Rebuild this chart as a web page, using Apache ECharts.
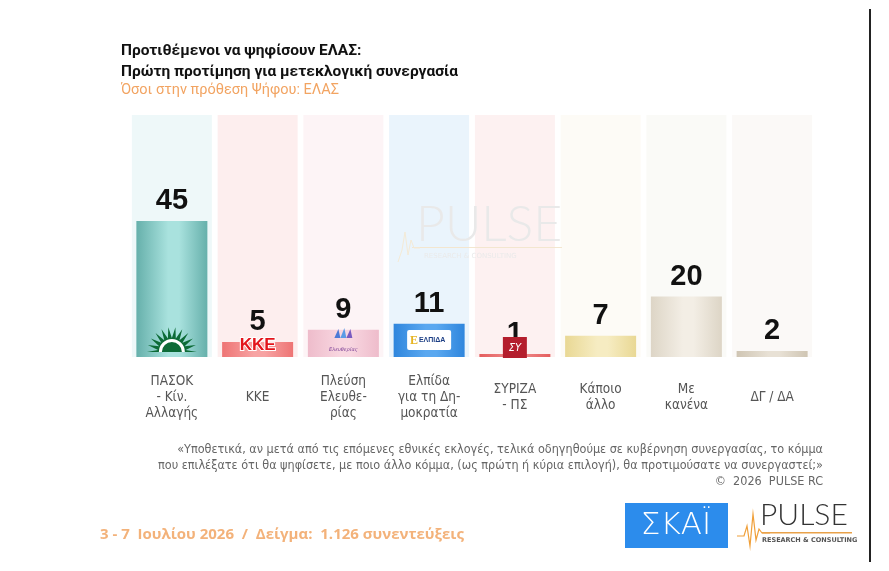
<!DOCTYPE html>
<html>
<head>
<meta charset="utf-8">
<script src="https://cdn.jsdelivr.net/npm/echarts@6/dist/echarts.min.js"></script>
<style>
  html, body { margin: 0; padding: 0; background: #fff; }
  #chart { width: 889px; height: 571px; }
</style>
</head>
<body>
<div id="chart"></div>
<script>
const chart = echarts.init(document.getElementById("chart"));

const categories = [
  "ΠΑΣΟΚ\n- Κίν.\nΑλλαγής",
  "ΚΚΕ",
  "Πλεύση\nΕλευθε-\nρίας",
  "Ελπίδα\nγια τη Δη-\nμοκρατία",
  "ΣΥΡΙΖΑ\n- ΠΣ",
  "Κάποιο\nάλλο",
  "Με\nκανένα",
  "ΔΓ / ΔΑ"
];
const values = [45, 5, 9, 11, 1, 7, 20, 2];
const AXIS_MAX = 80;
const backdrop = categories.map(() => AXIS_MAX);

// bar colours: [edge, centre]
const barColors = [
  ["#66b0ab", "#a9e2de"],
  ["#ee7474", "#f7a3a3"],
  ["#eebccb", "#f8d6e0"],
  ["#2f86dd", "#5aa8f0"],
  ["#e45e5e", "#ef8a8a"],
  ["#e9d894", "#f6ecc2"],
  ["#ddd5c6", "#f3eee5"],
  ["#cfc5b3", "#e8e1d5"]
];
const backColors = ["#eef8f9", "#fdeeee", "#fdf4f6", "#eaf4fc", "#fdf1f1", "#fdfbf6", "#fafaf7", "#fbf9f7"];

const NARROW = "'Liberation Sans Narrow', 'DejaVu Sans Condensed', Roboto";

function cylinder(c) {
  return new echarts.graphic.LinearGradient(0, 0, 1, 0, [
    { offset: 0, color: c[0] },
    { offset: 0.45, color: c[1] },
    { offset: 0.6, color: c[1] },
    { offset: 1, color: c[0] }
  ]);
}

// small party marks drawn at the foot of each bar
function renderLogo(params, api) {
  const i = params.dataIndex;
  const p = api.coord([api.value(0), 0]);
  const x = p[0], y = p[1];
  if (i === 0) {
    const pts = [];
    const n = 11;
    for (let k = 0; k <= n * 2; k++) {
      const a = Math.PI - (Math.PI * k) / (n * 2);
      const r = k % 2 === 0 ? 25 : 14;
      pts.push([x + Math.cos(a) * r, y - 5 - Math.sin(a) * r]);
    }
    return {
      type: "group",
      children: [
        { type: "polygon", shape: { points: pts }, style: { fill: "#0d6b37" } },
        { type: "sector", shape: { cx: x, cy: y - 5, r: 13, r0: 10, startAngle: Math.PI, endAngle: 2 * Math.PI }, style: { fill: "#fff" } }
      ]
    };
  }
  if (i === 1) {
    return {
      type: "text",
      style: { text: "KKE", x: x, y: y - 12, align: "center", verticalAlign: "middle", font: "bold 17px 'Liberation Sans'", fill: "#e3141b", stroke: "#fff", lineWidth: 2 }
    };
  }
  if (i === 2) {
    return {
      type: "group",
      children: [
        { type: "polygon", shape: { points: [[x - 9, y - 19], [x - 5, y - 28], [x - 3, y - 19]] }, style: { fill: "#4d7ad6" } },
        { type: "polygon", shape: { points: [[x - 3, y - 19], [x + 1, y - 29], [x + 3, y - 19]] }, style: { fill: "#5c9be6" } },
        { type: "polygon", shape: { points: [[x + 3, y - 19], [x + 7, y - 28], [x + 9, y - 19]] }, style: { fill: "#7a5bc0" } },
        { type: "text", style: { text: "Ελευθερίας", x: x, y: y - 7, align: "center", verticalAlign: "middle", font: "italic 5px 'DejaVu Sans'", fill: "#7a3d95" } }
      ]
    };
  }
  if (i === 3) {
    return {
      type: "group",
      children: [
        { type: "rect", shape: { x: x - 22, y: y - 27, width: 44, height: 20, r: 2 }, style: { fill: "#fff" } },
        { type: "text", style: { text: "ΕΛΠΙΔΑ", x: x + 3, y: y - 17, align: "center", verticalAlign: "middle", font: "bold 7px 'Liberation Sans'", fill: "#1d3f85" } },
        { type: "text", style: { text: "E", x: x - 15, y: y - 16, align: "center", verticalAlign: "middle", font: "bold 12px 'Liberation Serif'", fill: "#e6b422" } }
      ]
    };
  }
  if (i === 4) {
    return {
      type: "group",
      children: [
        { type: "rect", shape: { x: x - 12, y: y - 20, width: 24, height: 21 }, style: { fill: "#b41e2d" } },
        { type: "text", style: { text: "ΣΥ", x: x, y: y - 9, align: "center", verticalAlign: "middle", font: "italic 10px 'DejaVu Sans'", fill: "#fff" } }
      ]
    };
  }
  return null;
}

const option = {
  backgroundColor: "#ffffff",
  animation: false,
  title: [
    {
      text: "Προτιθέμενοι να ψηφίσουν ΕΛΑΣ:\nΠρώτη προτίμηση για μετεκλογική συνεργασία",
      left: 116, top: 36,
      textStyle: { fontFamily: "Roboto", fontSize: 15.5, fontWeight: "bold", color: "#111", lineHeight: 21 }
    },
    {
      text: "Όσοι στην πρόθεση Ψήφου: ΕΛΑΣ",
      left: 116, top: 78,
      textStyle: { fontFamily: "Roboto", fontSize: 14.5, fontWeight: "normal", color: "#f2a462" }
    }
  ],
  grid: { left: 129, right: 74, top: 115, bottom: 214 },
  xAxis: [
    {
      type: "category",
      data: categories,
      axisLine: { show: false },
      axisTick: { show: false },
      axisLabel: {
        interval: 0,
        margin: 40,
        verticalAlign: "middle",
        lineHeight: 16,
        fontFamily: NARROW,
        fontSize: 13.5,
        color: "#555"
      }
    },
    { type: "category", data: categories, show: false }
  ],
  yAxis: { type: "value", min: 0, max: AXIS_MAX, show: false, splitLine: { show: false } },
  graphic: [
    { type: "text", z: 1.5, left: 416, top: 200, style: { text: "PULSE", font: "300 50px Lato", fill: "#e9e9e9", letterSpacing: 5 } },
    { type: "rect", z: 1.5, shape: { x: 412, y: 247, width: 150, height: 1 }, style: { fill: "#f3e6cf" } },
    { type: "text", z: 1.5, left: 424, top: 253, style: { text: "RESEARCH & CONSULTING", font: "7px 'DejaVu Sans'", fill: "#eaeaea", letterSpacing: 2 } },
    { type: "polyline", z: 1.5, shape: { points: [[398, 262], [402, 250], [405, 232], [408, 255], [411, 240], [414, 248], [420, 248]] }, style: { stroke: "#f4ead6", fill: null, lineWidth: 1 } },

    {
      type: "text", x: 823, y: 442,
      style: {
        text: "«Υποθετικά, αν μετά από τις επόμενες εθνικές εκλογές, τελικά οδηγηθούμε σε κυβέρνηση συνεργασίας, το κόμμα\nπου επιλέξατε ότι θα ψηφίσετε, με ποιο άλλο κόμμα, (ως πρώτη ή κύρια επιλογή), θα προτιμούσατε να συνεργαστεί;»\n©  2026  PULSE RC",
        font: "12.5px " + NARROW,
        fill: "#666", align: "right", verticalAlign: "top", lineHeight: 16
      }
    },
    {
      type: "text", left: 100, top: 527,
      style: { text: "3 - 7  Ιουλίου 2026  /  Δείγμα:  1.126 συνεντεύξεις", font: "bold 15px 'Open Sans'", fill: "#f3b27a" }
    },

    { type: "rect", shape: { x: 625, y: 503, width: 103, height: 45 }, style: { fill: "#2c8cec" } },
    { type: "text", x: 676, y: 526, style: { text: "ΣΚΑΪ", font: "300 31px 'DejaVu Sans'", fill: "#fff", letterSpacing: 3, align: "center", verticalAlign: "middle" } },
    { type: "polyline", shape: { points: [[737, 536], [744, 536], [747, 526], [750, 546], [753, 514], [756, 540], [759, 529], [762, 533], [770, 533]] }, style: { stroke: "#f0a03a", fill: null, lineWidth: 1.2 } },
    { type: "rect", shape: { x: 762, y: 532, width: 90, height: 1.5 }, style: { fill: "#e9a24a" } },
    { type: "text", left: 760, top: 500, style: { text: "PULSE", font: "300 30px Lato", fill: "#333", letterSpacing: 2 } },
    { type: "text", left: 762, top: 537, style: { text: "RESEARCH & CONSULTING", font: "bold 6.5px 'DejaVu Sans'", fill: "#555", letterSpacing: 0.5 } },

    { type: "line", shape: { x1: 870, y1: 9, x2: 870, y2: 562 }, style: { stroke: "#222", lineWidth: 2 } }
  ],
  series: [
    {
      name: "backdrop",
      type: "bar",
      xAxisIndex: 1,
      barWidth: 80,
      z: 1,
      silent: true,
      data: backdrop.map((v, i) => ({ value: v, itemStyle: { color: backColors[i] } }))
    },
    {
      name: "ΕΛΑΣ",
      type: "bar",
      xAxisIndex: 0,
      barWidth: 71,
      z: 2,
      data: values.map((v, i) => ({ value: v, itemStyle: { color: cylinder(barColors[i]) } })),
      label: {
        show: true,
        position: "top",
        distance: 5,
        fontFamily: "'Liberation Sans'",
        fontSize: 29,
        fontWeight: "bold",
        color: "#111"
      }
    },
    {
      name: "logos",
      type: "custom",
      xAxisIndex: 0,
      z: 3,
      silent: true,
      data: values.map((v, i) => [i, v]),
      renderItem: renderLogo
    }
  ]
};

chart.setOption(option);
window.onresize = chart.resize;
</script>
</body>
</html>
